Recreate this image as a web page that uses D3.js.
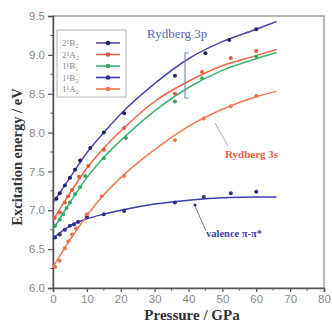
<!DOCTYPE html>
<html><head><meta charset="utf-8">
<script src="https://cdn.jsdelivr.net/npm/d3@7"></script>
<style>body{margin:0;background:#fff}svg{display:block}</style>
</head><body><svg id="c" width="332" height="322"></svg>
<script>
// ---- data ----
const seriesNames = ["2¹B₂", "2¹A₂", "1¹B₁", "1¹B₂", "1¹A₂"];
const seriesColors = ["#5048ac", "#f0644a", "#3cb46e", "#3c40ac", "#f27a52"];
const markerColors = ["#1e2468", "#e8553c", "#34a862", "#2a2f90", "#ee7450"];

// measured points (pressure GPa, energy eV)
const p_2B2 = [1, 2, 3.5, 5, 6.5, 8, 11, 15, 21, 36, 45, 52, 60];
const e_2B2 = [7.15, 7.22, 7.32, 7.42, 7.52, 7.64, 7.8, 8.0, 8.25, 8.73, 9.02, 9.19, 9.33];
const p_2A2 = [0.5, 2, 3.5, 4.5, 5.6, 7.7, 10.4, 15, 21, 36, 44, 52.5, 60];
const e_2A2 = [6.9, 6.97, 7.1, 7.18, 7.26, 7.43, 7.57, 7.78, 8.06, 8.5, 8.78, 8.96, 9.05];
const p_1B1 = [0.6, 2, 3, 4, 5, 6.5, 8, 9.5, 15, 21.5, 36, 44, 60];
const e_1B1 = [6.8, 6.88, 6.95, 7.03, 7.1, 7.21, 7.3, 7.44, 7.67, 7.93, 8.4, 8.7, 8.98];
const p_1B2 = [0.6, 2, 3.5, 5, 6.2, 7.4, 10, 15, 21, 36, 44.5, 52.5, 60];
const e_1B2 = [6.65, 6.69, 6.75, 6.8, 6.82, 6.85, 6.92, 6.95, 6.99, 7.1, 7.17, 7.22, 7.24];
const p_1A2 = [0.6, 2, 3.5, 4.5, 5.6, 6.8, 10, 14.4, 21, 36, 44.5, 52.5, 60];
const e_1A2 = [6.27, 6.35, 6.51, 6.6, 6.69, 6.77, 6.95, 7.18, 7.44, 7.9, 8.18, 8.34, 8.47];

// fitted curves
const fitP = [0, 5, 10, 15, 20, 30, 40, 50, 60, 66];
const fit_2B2 = [7.1, 7.42, 7.74, 8.0, 8.24, 8.63, 8.95, 9.17, 9.33, 9.43];
const fit_2A2 = [6.87, 7.22, 7.54, 7.8, 8.02, 8.4, 8.66, 8.86, 8.99, 9.07];
const fit_1B1 = [6.75, 7.1, 7.42, 7.68, 7.9, 8.28, 8.58, 8.8, 8.95, 9.03];
const fit_1B2 = [6.64, 6.8, 6.89, 6.95, 7.0, 7.08, 7.13, 7.16, 7.17, 7.17];
const fit_1A2 = [6.27, 6.62, 6.93, 7.2, 7.42, 7.78, 8.08, 8.3, 8.46, 8.53];

const xTicks = [0, 10, 20, 30, 40, 50, 60, 70, 80];
const yTicks = [6.0, 6.5, 7.0, 7.5, 8.0, 8.5, 9.0, 9.5];

const pts = [[p_2B2, e_2B2], [p_2A2, e_2A2], [p_1B1, e_1B1], [p_1B2, e_1B2], [p_1A2, e_1A2]];
const fits = [fit_2B2, fit_2A2, fit_1B1, fit_1B2, fit_1A2];

// ---- chart ----
const svg = d3.select("#c");
const L = 53, R = 324, T = 16, B = 288;
const x = d3.scaleLinear().domain([0, 80]).range([L, R]);
const y = d3.scaleLinear().domain([6, 9.5]).range([B, T]);
const serif = "'Liberation Serif','DejaVu Serif',serif";
const sans = "'Liberation Sans','DejaVu Sans',sans-serif";

// frame
svg.append("rect").attr("x", L).attr("y", T).attr("width", R - L).attr("height", B - T)
  .attr("fill", "none").attr("stroke", "#9a9a9a").attr("stroke-width", 1.4);

const xAxis = svg.append("g").attr("transform", `translate(0,${B})`)
  .call(d3.axisBottom(x).tickValues(xTicks).tickSize(4).tickFormat(d3.format("d")));
const yAxis = svg.append("g").attr("transform", `translate(${L},0)`)
  .call(d3.axisLeft(y).tickValues(yTicks).tickSize(5).tickFormat(d3.format(".1f")));
[xAxis, yAxis].forEach(g => {
  g.select(".domain").attr("stroke", "#555").attr("stroke-width", 1.5);
  g.selectAll(".tick line").attr("stroke", "#555").attr("stroke-width", 1.2);
  g.selectAll("text").attr("fill", "#8a8a8a").attr("font-family", sans).attr("font-size", 11.5);
});
// minor ticks
const minorX = d3.range(5, 80, 10);
svg.append("g").selectAll("line").data(minorX).join("line")
  .attr("x1", d => x(d)).attr("x2", d => x(d)).attr("y1", B).attr("y2", B + 2.5)
  .attr("stroke", "#555");
const minorY = d3.range(6.25, 9.5, 0.5);
svg.append("g").selectAll("line").data(minorY).join("line")
  .attr("y1", d => y(d)).attr("y2", d => y(d)).attr("x1", L).attr("x2", L - 2.5)
  .attr("stroke", "#555");

// axis titles
svg.append("text").attr("x", 192).attr("y", 320).attr("text-anchor", "middle")
  .attr("font-family", serif).attr("font-weight", "bold").attr("font-size", 15).attr("fill", "#333")
  .text("Pressure / GPa");
svg.append("text").attr("transform", "translate(22,157) rotate(-90)").attr("text-anchor", "middle")
  .attr("font-family", serif).attr("font-weight", "bold").attr("font-size", 14.5).attr("fill", "#333")
  .text("Excitation energy / eV");

// fitted lines
const line = d3.line().x(d => x(d[0])).y(d => y(d[1])).curve(d3.curveMonotoneX);
fits.forEach((f, i) => {
  svg.append("path").datum(fitP.map((p, k) => [p, f[k]]))
    .attr("d", line).attr("fill", "none").attr("stroke", seriesColors[i]).attr("stroke-width", 1.5);
});
// points
pts.forEach(([ps, es], i) => {
  svg.append("g").selectAll("circle").data(ps.map((p, k) => [p, es[k]])).join("circle")
    .attr("cx", d => x(d[0])).attr("cy", d => y(d[1])).attr("r", 2)
    .attr("fill", markerColors[i]);
});

// legend
const lg = svg.append("g");
lg.append("rect").attr("x", 57).attr("y", 30).attr("width", 69).attr("height", 67)
  .attr("fill", "#fff").attr("stroke", "#b0b0b0").attr("stroke-width", 1);
seriesNames.forEach((n, i) => {
  const yy = 43 + i * 11.5;
  lg.append("text").attr("x", 62).attr("y", yy + 3).attr("font-family", serif).attr("font-size", 9)
    .attr("fill", "#888").text(n);
  lg.append("line").attr("x1", 96).attr("x2", 120).attr("y1", yy).attr("y2", yy)
    .attr("stroke", seriesColors[i]).attr("stroke-width", 1.6);
  lg.append("circle").attr("cx", 108).attr("cy", yy).attr("r", 2.3).attr("fill", markerColors[i]);
});

// annotations
svg.append("text").attr("x", 147).attr("y", 38).attr("font-family", serif).attr("font-size", 13)
  .attr("fill", "#5a6ab0").text("Rydberg 3p");
svg.append("path").attr("d", "M189,53 L185,53 L185,98 L189,98").attr("fill", "none")
  .attr("stroke", "#7c8cc0").attr("stroke-width", 1.2);
svg.append("text").attr("x", 225).attr("y", 158).attr("font-family", serif).attr("font-weight", "bold")
  .attr("font-size", 11).attr("fill", "#e8603c").text("Rydberg 3s");
svg.append("line").attr("x1", 215).attr("y1", 123).attr("x2", 228).attr("y2", 146)
  .attr("stroke", "#999").attr("stroke-width", 0.8);
svg.append("text").attr("x", 206).attr("y", 237).attr("font-family", serif).attr("font-weight", "bold")
  .attr("font-size", 10.5).attr("fill", "#3c40ac").text("valence π-π*");
svg.append("line").attr("x1", 195).attr("y1", 206).attr("x2", 206).attr("y2", 231)
  .attr("stroke", "#666").attr("stroke-width", 0.8);
svg.append("circle").attr("cx", 195).attr("cy", 205).attr("r", 1.6).attr("fill", "#2a2f90");
</script></body></html>
